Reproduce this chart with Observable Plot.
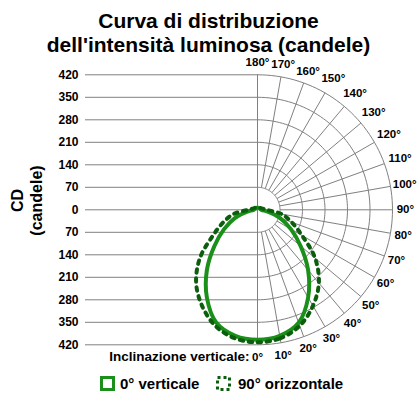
<!DOCTYPE html>
<html>
<head>
<meta charset="utf-8">
<script src="https://cdn.jsdelivr.net/npm/d3@7"></script>
<script src="https://cdn.jsdelivr.net/npm/@observablehq/plot@0.6"></script>
<style>
  body { margin: 0; background: #fff; font-family: "Liberation Sans", Arial, sans-serif; }
  #wrap { position: relative; width: 417px; height: 394px; overflow: hidden; background: #fff; }
  #title { position: absolute; left: 0; top: 0; width: 417px; box-sizing: border-box; padding-top: 9px; z-index: 2;
           text-align: center; font-weight: bold; font-size: 21px; line-height: 24px; color: #000; }
  #chart { position: absolute; left: 0; top: 47px; z-index: 1; }
  #legend { position: absolute; left: 0; top: 367px; width: 417px; height: 27px; }
  #legend span.t { position: absolute; top: 9px; font-size: 15px; line-height: 15px; font-weight: bold; color: #000; white-space: nowrap; }
  #legend svg { position: absolute; }
</style>
</head>
<body>
<div id="wrap">
  <div id="title"></div>
  <div id="chart"></div>
  <div id="legend"></div>
</div>
<script>
// ---- data ----
const titleLines = ["Curva di distribuzione", "dell'intensità luminosa (candele)"];
const intensityTicks = [0, 70, 140, 210, 280, 350, 420];
const angleTicks = [0, 10, 20, 30, 40, 50, 60, 70, 80, 90, 100, 110, 120, 130, 140, 150, 160, 170, 180];
const profileAngles = [0, 10, 20, 30, 40, 50, 60, 70, 80, 90, 180];
const verticalCd   = [404, 398, 374, 315, 245, 175, 120, 75, 32, 12, 7];
const horizontalCd = [412, 406, 384, 345, 297, 234, 160, 113, 76, 28, 7];
const seriesNames = ["0° verticale", "90° orizzontale"];
const seriesColors = ["#1a8f1a", "#0b5e0b"];
const yAxisTitle = ["CD", "(candele)"];
const angleAxisTitle = "Inclinazione verticale:";

// ---- layout ----
const W = 417, H = 320;
const cx = 257, cy = 162.3;          // pole position inside the svg
const k = 135 / 420;                 // px per candela
const mLeft = 85;
const rad = a => a * Math.PI / 180;
const px = (r, a) => r * Math.sin(rad(a));
const py = (r, a) => -r * Math.cos(rad(a));

document.getElementById("title").innerHTML = titleLines.join("<br>");

// ring grid
const rings = intensityTicks.filter(d => d > 0);
const ringPts = [];
for (const r of rings) for (let a = 0; a <= 180; a += 2) ringPts.push({r, x: px(r, a), y: py(r, a)});
const spokes = angleTicks.filter(a => a > 0 && a < 180);
const hLines = intensityTicks.flatMap(d => d === 0 ? [0] : [d, -d]);

// profiles (mirrored to left side)
function profile(values, name) {
  const right = profileAngles.map((a, i) => ({name, x: px(values[i], a), y: py(values[i], a)}));
  const left = profileAngles.slice(1, -1).reverse().map(a => {
    const i = profileAngles.indexOf(a);
    return {name, x: -px(values[i], a), y: py(values[i], a)};
  });
  return right.concat(left);
}
const solid = profile(verticalCd, seriesNames[0]);
const dotted = profile(horizontalCd, seriesNames[1]);

const labelR = a => a === 100 ? 465 : (a > 100 && a < 160) ? 472 : 460;
const gridColor = "#808080";
const font = "'Liberation Sans', Arial, sans-serif";

const chart = Plot.plot({
  width: W, height: H,
  marginLeft: mLeft, marginRight: 0, marginTop: 0, marginBottom: 0,
  x: {domain: [(mLeft - cx) / k, (W - cx) / k], axis: null},
  y: {domain: [-(H - cy) / k, cy / k], axis: null},
  style: {fontFamily: font, background: "transparent", color: "#000", overflow: "visible"},
  marks: [
    Plot.ruleY(hLines, {y: d => d, x1: () => (mLeft - cx) / k, x2: () => 0, stroke: gridColor, strokeWidth: 1}),
    Plot.ruleX([0], {x: d => d, y1: () => -420, y2: () => 420, stroke: gridColor, strokeWidth: 1}),
    Plot.line(ringPts, {x: "x", y: "y", z: "r", stroke: gridColor, strokeWidth: 1}),
    Plot.link(spokes, {x1: a => px(70, a), y1: a => py(70, a), x2: a => px(420, a), y2: a => py(420, a), stroke: gridColor, strokeWidth: 1}),
    Plot.text(hLines, {y: d => d, text: d => String(Math.abs(d)), frameAnchor: "left", textAnchor: "end", dx: -7,
                       fontSize: 12, fontWeight: "bold", fill: "#000"}),
    Plot.text(angleTicks, {x: a => px(labelR(a), a), y: a => py(labelR(a), a), text: a => a + "°",
                           textAnchor: "middle", fontSize: 11.5, fontWeight: "bold", fill: "#000"}),
    Plot.text([angleAxisTitle], {x: () => 0, y: () => -458, textAnchor: "end", dx: -8,
                                 fontSize: 13.5, fontWeight: "bold", fill: "#000"}),
    Plot.text([yAxisTitle.join("\n")], {frameAnchor: "left", dx: -59.5, dy: -7, rotate: -90, lineHeight: 1.19,
                                        textAnchor: "middle", fontSize: 16, fontWeight: "bold", fill: "#000"}),
    Plot.line(solid, {x: "x", y: "y", stroke: seriesColors[0], strokeWidth: 4, curve: "catmull-rom-closed"}),
    Plot.line(dotted, {x: "x", y: "y", stroke: seriesColors[1], strokeWidth: 4, strokeDasharray: "3.5,5.5", curve: "catmull-rom-closed"})
  ]
});
document.getElementById("chart").appendChild(chart);

// legend
const legend = document.getElementById("legend");
const legendItems = [
  {iconX: 99.5, textX: 120, dash: null},
  {iconX: 216, textX: 238, dash: "3,3"}
];
seriesNames.forEach((name, i) => {
  const it = legendItems[i];
  const ns = "http://www.w3.org/2000/svg";
  const s = document.createElementNS(ns, "svg");
  s.setAttribute("width", 16); s.setAttribute("height", 16);
  s.style.left = it.iconX + "px"; s.style.top = "9px";
  const r = document.createElementNS(ns, "rect");
  r.setAttribute("x", 1.5); r.setAttribute("y", 1.5); r.setAttribute("width", 12); r.setAttribute("height", 12);
  r.setAttribute("fill", "none"); r.setAttribute("stroke", seriesColors[i]); r.setAttribute("stroke-width", 3);
  if (it.dash) r.setAttribute("stroke-dasharray", it.dash);
  s.appendChild(r);
  legend.appendChild(s);
  const t = document.createElement("span");
  t.className = "t"; t.textContent = name; t.style.left = it.textX + "px";
  legend.appendChild(t);
});
</script>
</body>
</html>
